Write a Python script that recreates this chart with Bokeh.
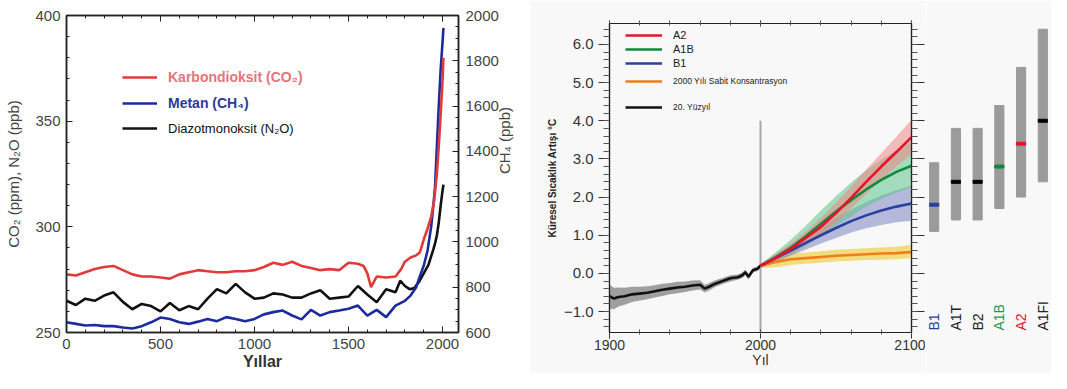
import math
from bokeh.plotting import figure
from bokeh.models import (Range1d, LinearAxis, Legend, LegendItem, FactorRange, FixedTicker,
                          PrintfTickFormatter)
from bokeh.layouts import row
from bokeh.embed import file_html
from bokeh.resources import INLINE
from bokeh.core.properties import value

# ---------------- Left chart data (years, concentrations) ----------------
co2_years = [0, 50, 100, 150, 200, 250, 300, 350, 400, 450, 500, 550, 600, 650, 700, 750,
             800, 850, 900, 950, 1000, 1050, 1100, 1150, 1200, 1250, 1300, 1350, 1400, 1450,
             1500, 1550, 1580, 1600, 1620, 1650, 1700, 1750, 1780, 1800, 1830, 1860, 1880,
             1900, 1920, 1940, 1955, 1970, 1980, 1990, 2000, 2005]
co2_ppm = [277.5, 277.0, 278.5, 280.0, 281.0, 281.5, 279.5, 277.5, 276.5, 276.5, 276.0, 275.5,
           277.5, 278.5, 279.5, 279.0, 278.5, 278.5, 279.0, 279.0, 279.5, 281.0, 283.0, 282.0,
           283.5, 281.5, 280.5, 279.5, 280.0, 279.5, 283.0, 282.5, 281.5, 278.0, 271.5, 276.5,
           276.0, 276.5, 280.0, 283.5, 285.5, 286.5, 288.0, 294.0, 299.0, 305.0, 312.0, 325.0,
           338.0, 353.0, 369.0, 380.0]

ch4_years = [0, 50, 100, 150, 200, 250, 300, 350, 400, 450, 500, 550, 600, 650, 700, 750,
             800, 850, 900, 950, 1000, 1050, 1100, 1150, 1200, 1250, 1300, 1350, 1400, 1450,
             1500, 1550, 1600, 1650, 1700, 1750, 1800, 1830, 1860, 1880, 1900, 1920, 1940,
             1950, 1960, 1970, 1980, 1990, 2000, 2005]
ch4_ppb = [645, 638, 631, 633, 628, 628, 622, 618, 628, 645, 666, 660, 645, 638, 648, 660,
           650, 668, 660, 650, 660, 680, 690, 697, 675, 658, 700, 675, 690, 697, 705, 719,
           675, 700, 668, 719, 740, 763, 800, 850, 895, 960, 1070, 1150, 1240, 1420, 1600,
           1760, 1880, 1945]

n2o_years = [0, 50, 100, 150, 200, 250, 300, 350, 400, 450, 500, 550, 600, 650, 700, 750,
             800, 850, 900, 950, 1000, 1050, 1100, 1150, 1200, 1250, 1300, 1350, 1400, 1450,
             1500, 1550, 1600, 1650, 1700, 1750, 1775, 1800, 1825, 1850, 1875, 1900, 1925,
             1950, 1960, 1970, 1980, 1990, 2000, 2005]
n2o_ppb = [265.0, 263.0, 266.0, 265.0, 267.5, 269.0, 264.5, 261.0, 263.5, 262.5, 260.0, 264.0,
           260.5, 262.5, 261.0, 266.0, 270.5, 268.5, 273.0, 269.0, 266.0, 266.5, 268.5, 268.0,
           266.5, 266.5, 268.5, 270.0, 266.0, 266.5, 267.0, 272.0, 268.0, 264.3, 270.5, 269.0,
           274.5, 272.0, 270.5, 271.0, 274.0, 278.0, 282.0, 289.0, 292.0, 296.0, 302.0, 310.0,
           317.0, 320.0]

left_labels = ["Karbondioksit (CO₂)", "Metan (CH₄)", "Diazotmonoksit (N₂O)"]

# ---------------- Right chart data ----------------
hist_years = [1900, 1903, 1906, 1910, 1915, 1920, 1925, 1930, 1935, 1940, 1945, 1950, 1955,
              1960, 1963, 1966, 1970, 1975, 1980, 1985, 1988, 1990, 1992, 1995, 1998, 2000]
hist_temp = [-0.60, -0.66, -0.62, -0.60, -0.55, -0.53, -0.51, -0.47, -0.43, -0.40, -0.37, -0.35,
             -0.32, -0.30, -0.40, -0.35, -0.27, -0.20, -0.13, -0.10, -0.05, 0.03, -0.09, 0.08,
             0.12, 0.20]
hist_lo = [-0.92, -0.94, -0.87, -0.82, -0.75, -0.71, -0.68, -0.63, -0.59, -0.55, -0.52, -0.49,
           -0.45, -0.42, -0.50, -0.45, -0.36, -0.28, -0.21, -0.17, -0.12, -0.04, -0.16, 0.02,
           0.06, 0.15]
hist_hi = [-0.30, -0.38, -0.37, -0.38, -0.35, -0.35, -0.34, -0.31, -0.27, -0.25, -0.22, -0.21,
           -0.19, -0.18, -0.30, -0.25, -0.18, -0.12, -0.05, -0.03, 0.02, 0.10, -0.02, 0.14,
           0.18, 0.25]

fut_years = [2000, 2010, 2020, 2030, 2040, 2050, 2060, 2070, 2080, 2090, 2100]
a2_mid = [0.20, 0.40, 0.64, 0.93, 1.22, 1.58, 1.98, 2.40, 2.80, 3.18, 3.57]
a2_lo = [0.18, 0.30, 0.50, 0.74, 1.00, 1.33, 1.70, 2.08, 2.45, 2.80, 3.12]
a2_hi = [0.24, 0.50, 0.78, 1.10, 1.45, 1.85, 2.28, 2.72, 3.15, 3.58, 4.03]
a1b_mid = [0.20, 0.42, 0.67, 0.97, 1.30, 1.62, 1.92, 2.20, 2.45, 2.66, 2.82]
a1b_lo = [0.17, 0.30, 0.48, 0.72, 0.98, 1.25, 1.50, 1.75, 1.95, 2.12, 2.26]
a1b_hi = [0.24, 0.55, 0.88, 1.25, 1.65, 2.02, 2.38, 2.70, 2.98, 3.22, 3.45]
b1_mid = [0.20, 0.40, 0.60, 0.80, 1.00, 1.19, 1.37, 1.52, 1.65, 1.75, 1.83]
b1_lo = [0.17, 0.30, 0.46, 0.62, 0.78, 0.93, 1.07, 1.18, 1.27, 1.34, 1.38]
b1_hi = [0.24, 0.50, 0.74, 0.98, 1.22, 1.45, 1.67, 1.87, 2.04, 2.18, 2.30]
commit_mid = [0.20, 0.30, 0.37, 0.40, 0.43, 0.46, 0.48, 0.50, 0.52, 0.53, 0.56]
commit_lo = [0.14, 0.16, 0.22, 0.25, 0.28, 0.31, 0.33, 0.35, 0.36, 0.37, 0.40]
commit_hi = [0.26, 0.42, 0.52, 0.55, 0.58, 0.62, 0.64, 0.66, 0.68, 0.70, 0.75]

scenarios = ["B1", "A1T", "B2", "A1B", "A2", "A1FI"]
best_est = [1.8, 2.4, 2.4, 2.8, 3.4, 4.0]
likely_lo = [1.1, 1.4, 1.4, 1.7, 2.0, 2.4]
likely_hi = [2.9, 3.8, 3.8, 4.4, 5.4, 6.4]

right_labels = ["A2", "A1B", "B1", "2000 Yılı Sabit Konsantrasyon", "20. Yüzyıl"]

# ---------------- Styles ----------------
SANS = "Liberation Sans"
BG = "#f8f8f8"
RED, GREEN, BLUE, ORANGE = "#e8132b", "#0d8a3c", "#2b3f9e", "#f07d1a"
bar_mark_colors = [BLUE, "black", "black", GREEN, RED, "black"]
label_colors = [BLUE, "#222222", "#222222", "#1f9a52", RED, "#222222"]


def blank_labels(ax, ticks):
    ax.major_label_overrides = {t: "" for t in ticks}
    ax.major_label_standoff = 0


# ================= LEFT FIGURE =================
p1 = figure(width=530, height=373, x_range=Range1d(0, 2085), y_range=Range1d(250, 400),
            output_backend="svg", toolbar_location=None,
            min_border_left=66, min_border_right=72, min_border_top=15, min_border_bottom=41,
            x_axis_location=None, y_axis_location=None)
p1.frame_align = False
p1.extra_y_ranges = {"ch4": Range1d(600, 2000)}
p1.grid.visible = False
p1.outline_line_color = "#222222"
p1.outline_line_width = 1.5


def style_inward(ax):
    ax.major_tick_in = 6
    ax.major_tick_out = 0
    ax.minor_tick_in = 3
    ax.minor_tick_out = 0
    ax.axis_line_color = "#222222"
    ax.axis_line_width = 1.5
    ax.major_tick_line_color = "#222222"
    ax.minor_tick_line_color = "#222222"
    ax.major_label_text_font = SANS
    ax.major_label_text_font_size = "15px"
    ax.major_label_text_color = "#444444"
    ax.major_label_standoff = 6


x_major = [0, 500, 1000, 1500, 2000]
xt = FixedTicker(ticks=x_major, minor_ticks=list(range(0, 2100, 100)))
ax_b = LinearAxis(ticker=xt, axis_label="Yıllar")
style_inward(ax_b)
ax_b.major_label_standoff = 6
ax_b.axis_label_text_font = SANS
ax_b.axis_label_text_font_style = "bold"
ax_b.axis_label_text_font_size = "16px"
ax_b.axis_label_text_color = "#333333"
ax_b.axis_label_standoff = 1
p1.add_layout(ax_b, "below")

ax_t = LinearAxis(ticker=xt)
style_inward(ax_t)
blank_labels(ax_t, x_major)
p1.add_layout(ax_t, "above")

y_major = [250, 300, 350, 400]
yt = FixedTicker(ticks=y_major, minor_ticks=list(range(250, 401, 10)))
ax_l = LinearAxis(ticker=yt, axis_label="CO₂ (ppm), N₂O (ppb)")
style_inward(ax_l)
ax_l.axis_label_text_font = SANS
ax_l.axis_label_text_font_style = "normal"
ax_l.axis_label_text_font_size = "15px"
ax_l.axis_label_text_color = "#444444"
ax_l.axis_label_standoff = 10
p1.add_layout(ax_l, "left")

r_major = list(range(600, 2001, 200))
rt = FixedTicker(ticks=r_major, minor_ticks=list(range(600, 2001, 50)))
ax_r = LinearAxis(ticker=rt, y_range_name="ch4", axis_label="CH₄ (ppb)")
style_inward(ax_r)
ax_r.major_label_standoff = 7
ax_r.axis_label_text_font = SANS
ax_r.axis_label_text_font_style = "normal"
ax_r.axis_label_text_font_size = "15px"
ax_r.axis_label_text_color = "#444444"
ax_r.axis_label_standoff = 3
if "axis_label_orientation" in ax_r.properties():
    ax_r.axis_label_orientation = math.pi / 2
p1.add_layout(ax_r, "right")

r_n2o = p1.line(n2o_years, n2o_ppb, color="#111111", line_width=2.6)
r_ch4 = p1.line(ch4_years, ch4_ppb, y_range_name="ch4", color="#1c2c9c", line_width=2.6)
r_co2 = p1.line(co2_years, co2_ppm, color="#e23a3a", line_width=2.6)

leg_specs = [
    (left_labels[0], r_co2, "#e8737b", "bold", "14px", (56, 247)),
    (left_labels[1], r_ch4, "#2a3a9c", "bold", "14px", (56, 221)),
    (left_labels[2], r_n2o, "#111111", "normal", "13px", (56, 196)),
]
for lab, rend, col, style, fsize, loc in leg_specs:
    lg = Legend(items=[LegendItem(label=lab, renderers=[rend])], location=loc,
                padding=0, margin=0, spacing=0, border_line_color=None,
                background_fill_alpha=0, glyph_width=35, glyph_height=16,
                label_height=16, label_standoff=11, label_text_color=col,
                label_text_font_style=style, label_text_font=SANS, label_text_font_size=fsize,
                label_text_baseline="middle")
    p1.add_layout(lg)

# ================= RIGHT FIGURE =================
p2 = figure(width=395, height=373, x_range=Range1d(1900, 2100), y_range=Range1d(-1.55, 6.55),
            output_backend="svg", toolbar_location=None,
            min_border_left=79, min_border_right=14, min_border_top=23, min_border_bottom=38,
            x_axis_location=None, y_axis_location=None,
            background_fill_color=BG, border_fill_color=BG)
p2.grid.visible = False
p2.outline_line_color = "#222222"
p2.outline_line_width = 1.2


def style_plain(ax):
    ax.axis_line_color = "#222222"
    ax.axis_line_width = 1.2
    ax.major_tick_line_color = "#333333"
    ax.minor_tick_line_color = "#555555"
    ax.major_label_text_font = SANS
    ax.major_label_text_font_size = "15px"
    ax.major_label_text_color = "#333333"


x2_major = [1900, 2000, 2100]
xt2 = FixedTicker(ticks=x2_major, minor_ticks=list(range(1900, 2101, 20)))
bx = LinearAxis(ticker=xt2, axis_label="Yıl")
style_plain(bx)
bx.major_label_text_font_size = "14px"
bx.major_tick_in = 3
bx.major_tick_out = 6
bx.minor_tick_in = 3
bx.minor_tick_out = 2
bx.major_label_standoff = 1
bx.axis_label_text_font = SANS
bx.axis_label_text_font_style = "normal"
bx.axis_label_text_font_size = "14px"
bx.axis_label_text_color = "#333333"
bx.axis_label_standoff = -1
p2.add_layout(bx, "below")

tx = LinearAxis(ticker=xt2)
style_plain(tx)
blank_labels(tx, x2_major)
tx.major_tick_in = 3
tx.major_tick_out = 3
tx.minor_tick_in = 2
tx.minor_tick_out = 3
p2.add_layout(tx, "above")

y2_major = [-1, 0, 1, 2, 3, 4, 5, 6]
yt2 = FixedTicker(ticks=y2_major, minor_ticks=[round(-1.4 + 0.2 * i, 1) for i in range(40)])
ly = LinearAxis(ticker=yt2, axis_label="Küresel Sıcaklık Artışı °C",
                formatter=PrintfTickFormatter(format="%.1f"))
style_plain(ly)
ly.major_label_overrides = {-1: "−1.0"}
ly.major_tick_in = 0
ly.major_tick_out = 11
ly.minor_tick_in = 0
ly.minor_tick_out = 6
ly.major_label_standoff = 5
ly.axis_label_text_font = SANS
ly.axis_label_text_font_style = "bold"
ly.axis_label_text_font_size = "10px"
ly.axis_label_text_color = "#222222"
ly.axis_label_standoff = 3
p2.add_layout(ly, "left")

ry = LinearAxis(ticker=yt2)
style_plain(ry)
blank_labels(ry, y2_major)
ry.major_tick_in = 0
ry.major_tick_out = 13
ry.minor_tick_in = 0
ry.minor_tick_out = 6
p2.add_layout(ry, "right")

divider_year = 2000
divider_top = 4.0
p2.segment(x0=[divider_year], y0=[divider_top], x1=[divider_year], y1=[-1.55],
           line_color="#a8a8a8", line_width=2)

p2.varea(x=hist_years, y1=hist_lo, y2=hist_hi, fill_color="#8f8f8f", fill_alpha=0.85)
r_hist = p2.line(hist_years, hist_temp, color="#111111", line_width=2.6)

p2.varea(x=fut_years, y1=commit_lo, y2=commit_hi, fill_color="#f0d455", fill_alpha=0.75)
p2.varea(x=fut_years, y1=b1_lo, y2=b1_hi, fill_color="#9ea3d2", fill_alpha=0.75)
p2.varea(x=fut_years, y1=a1b_lo, y2=a1b_hi, fill_color="#5cc48a", fill_alpha=0.55)
p2.varea(x=fut_years, y1=a2_lo, y2=a2_hi, fill_color="#f08585", fill_alpha=0.55)

r_commit = p2.line(fut_years, commit_mid, color=ORANGE, line_width=2.6)
r_b1 = p2.line(fut_years, b1_mid, color=BLUE, line_width=2.6)
r_a1b = p2.line(fut_years, a1b_mid, color=GREEN, line_width=2.6)
r_a2 = p2.line(fut_years, a2_mid, color=RED, line_width=2.6)


def small_legend(items, loc, fsize, spacing=2):
    return Legend(items=items, location=loc, padding=0, margin=0, spacing=spacing,
                  border_line_color=None, background_fill_alpha=0, glyph_width=37,
                  glyph_height=12, label_height=12, label_standoff=11,
                  label_text_font=SANS, label_text_font_size=fsize,
                  label_text_color="#222222", label_text_baseline="middle")


p2.add_layout(small_legend([LegendItem(label=right_labels[0], renderers=[r_a2]),
                            LegendItem(label=right_labels[1], renderers=[r_a1b]),
                            LegendItem(label=right_labels[2], renderers=[r_b1])],
                           (16, 263), "11px"))
p2.add_layout(small_legend([LegendItem(label=right_labels[3], renderers=[r_commit])],
                           (16, 245), "8.5px"))
p2.add_layout(small_legend([LegendItem(label=right_labels[4], renderers=[r_hist])],
                           (16, 219), "8.5px"))

# ================= BAR PANEL =================
p3 = figure(width=126, height=373,
            x_range=FactorRange(*scenarios, range_padding=-0.1, range_padding_units="absolute"),
            y_range=p2.y_range, output_backend="svg", toolbar_location=None,
            min_border_left=0, min_border_right=0, min_border_top=23, min_border_bottom=38,
            x_axis_location=None, y_axis_location=None,
            background_fill_color=BG, border_fill_color=BG)
p3.grid.visible = False
p3.outline_line_color = None
p3.vbar(x=scenarios, bottom=likely_lo, top=likely_hi, width=0.42, color="#9b9b9b")
p3.rect(x=scenarios, y=best_est, width=0.42, height=3, height_units="screen",
        color=bar_mark_colors)
p3.text(x=scenarios, y=-1.5, text=scenarios, angle=math.pi / 2, text_color=label_colors,
        text_align="left", text_baseline="middle", text_font=value(SANS),
        text_font_size="14px")

layout = row(p1, p2, p3)
open("out.html", "w").write(file_html(layout, INLINE))
